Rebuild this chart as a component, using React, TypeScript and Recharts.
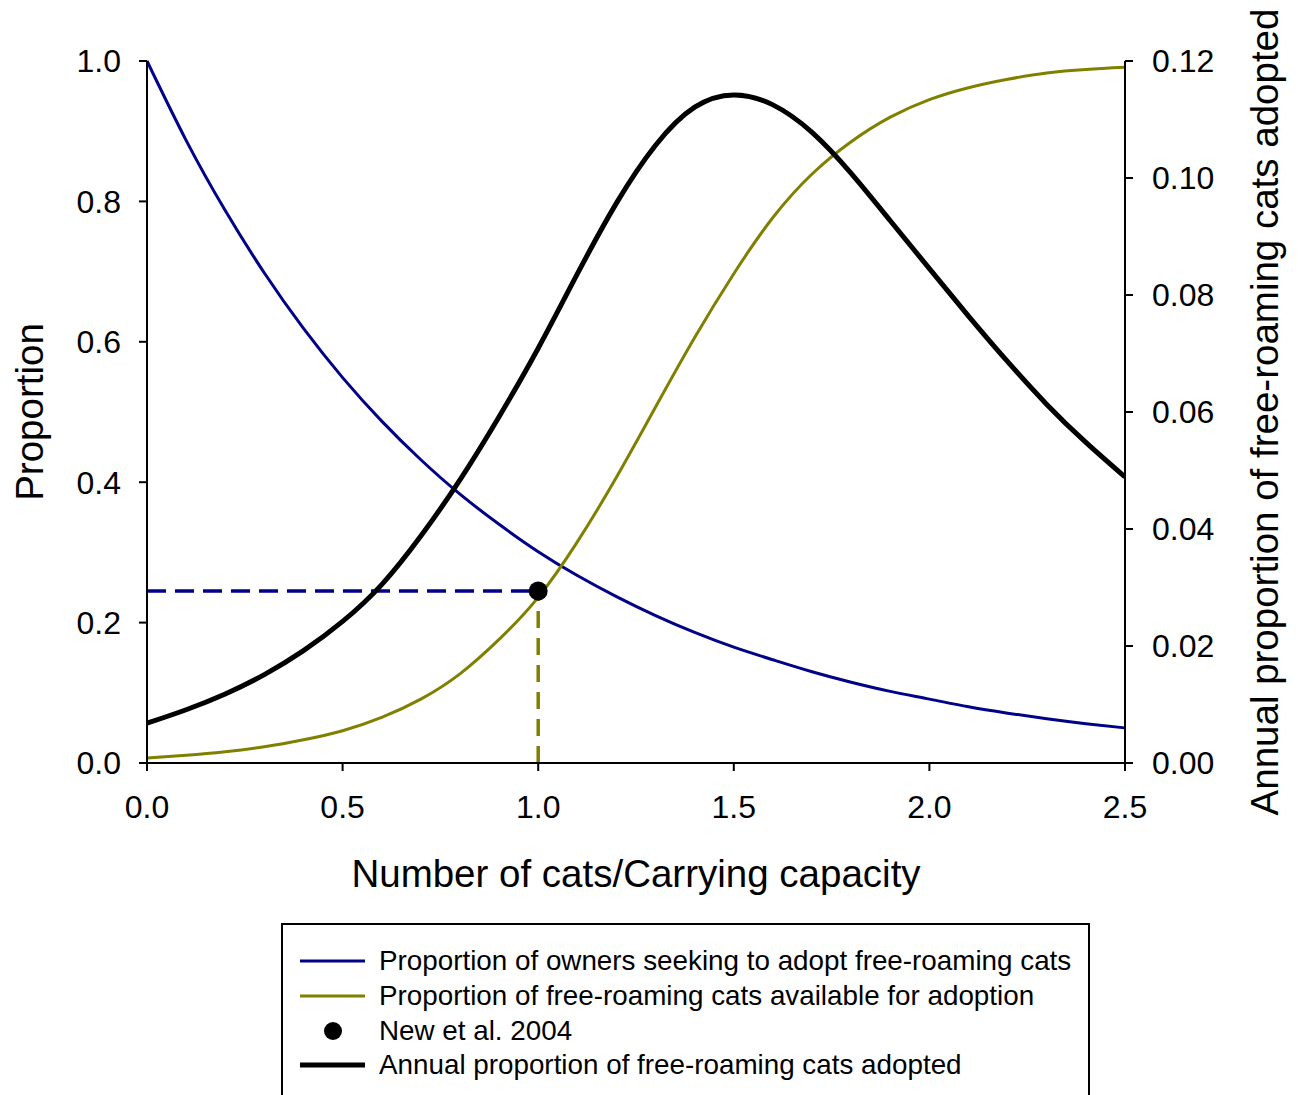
import React from "react";
import {
  ComposedChart,
  Line,
  Scatter,
  XAxis,
  YAxis,
} from "recharts";

const ratio = [
  0, 0.1, 0.2, 0.3, 0.4, 0.5, 0.6, 0.7, 0.8, 0.9, 1.0, 1.1, 1.2, 1.3, 1.4,
  1.5, 1.6, 1.7, 1.8, 1.9, 2.0, 2.1, 2.2, 2.3, 2.4, 2.5,
];
const ownersSeeking = [
  1.0, 0.887, 0.787, 0.698, 0.619, 0.549, 0.487, 0.432, 0.383, 0.34, 0.301,
  0.267, 0.237, 0.21, 0.186, 0.165, 0.147, 0.13, 0.115, 0.102, 0.091, 0.08,
  0.071, 0.063, 0.056, 0.05,
];
const catsAvailable = [
  0.007, 0.011, 0.016, 0.023, 0.033, 0.046, 0.065, 0.091, 0.127, 0.176, 0.236,
  0.315, 0.407, 0.507, 0.606, 0.697, 0.777, 0.839, 0.885, 0.92, 0.945, 0.962,
  0.974, 0.983, 0.988, 0.991,
];
const annualAdopted = [
  0.0068, 0.0091, 0.0118, 0.0151, 0.0192, 0.0242, 0.0305, 0.0388, 0.0484,
  0.0592, 0.0709, 0.0836, 0.0957, 0.1056, 0.1121, 0.1142, 0.1125, 0.1078,
  0.1008, 0.0927, 0.0845, 0.0764, 0.0686, 0.0613, 0.0548, 0.0489,
];

const newEtAl = [{ x: 1.0, y: 0.245 }];
const guideH = [
  { x: 0, y: 0.245 },
  { x: 1.0, y: 0.245 },
];
const guideV = [
  { x: 1.0, y: 0 },
  { x: 1.0, y: 0.245 },
];

const xTicks = [0, 0.5, 1.0, 1.5, 2.0, 2.5];
const leftTicks = [0, 0.2, 0.4, 0.6, 0.8, 1.0];
const rightTicks = [0, 0.02, 0.04, 0.06, 0.08, 0.1, 0.12];

const legendItems = [
  { label: "Proportion of owners seeking to adopt free-roaming cats", color: "#000088", kind: "line", w: 3 },
  { label: "Proportion of free-roaming cats available for adoption", color: "#808000", kind: "line", w: 3 },
  { label: "New et al. 2004", color: "#000", kind: "dot", w: 0 },
  { label: "Annual proportion of free-roaming cats adopted", color: "#000", kind: "line", w: 5 },
];

const FONT = "'Liberation Sans', Arial, sans-serif";
const BLUE = "#000088";
const OLIVE = "#808000";

const ownersData = ratio.map((x, i) => ({ x, y: ownersSeeking[i] }));
const availData = ratio.map((x, i) => ({ x, y: catsAvailable[i] }));
const adoptedData = ratio.map((x, i) => ({ x, y: annualAdopted[i] }));

const tickStyle = { fontSize: 32, fill: "#000", fontFamily: FONT };

export default function App() {
  return (
    <div
      style={{
        position: "absolute",
        left: 0,
        top: 0,
        width: 1298,
        height: 1095,
        overflow: "hidden",
        background: "#fff",
        fontFamily: FONT,
      }}
    >
      <ComposedChart
        width={1298}
        height={1095}
        margin={{ top: 61, right: 0, left: 0, bottom: 222 }}
      >
        <XAxis
          dataKey="x"
          type="number"
          domain={[0, 2.5]}
          ticks={xTicks}
          tickFormatter={(v: number) => v.toFixed(1)}
          height={110}
          stroke="#000"
          strokeWidth={2}
          tickSize={8}
          tickMargin={24}
          tick={tickStyle}
          allowDataOverflow
          label={(p: any) => (
            <text
              x={p.viewBox.x + p.viewBox.width / 2}
              y={887}
              textAnchor="middle"
              fontSize={38.5}
              fontFamily={FONT}
              fill="#000"
            >
              Number of cats/Carrying capacity
            </text>
          )}
        />
        <XAxis
          xAxisId="top"
          dataKey="x"
          type="number"
          orientation="top"
          domain={[0, 2.5]}
          height={0}
          tick={false}
          tickLine={false}
          stroke="#000"
          strokeWidth={2}
        />
        <YAxis
          yAxisId="left"
          domain={[0, 1]}
          ticks={leftTicks}
          tickFormatter={(v: number) => v.toFixed(1)}
          width={147}
          stroke="#000"
          strokeWidth={2}
          tickSize={8}
          tickMargin={18}
          tick={tickStyle}
          label={(p: any) => {
            const cx = 43;
            const cy = p.viewBox.y + p.viewBox.height / 2;
            return (
              <text
                x={cx}
                y={cy}
                transform={`rotate(-90 ${cx} ${cy})`}
                textAnchor="middle"
                fontSize={38.5}
                fontFamily={FONT}
                fill="#000"
              >
                Proportion
              </text>
            );
          }}
        />
        <YAxis
          yAxisId="right"
          orientation="right"
          domain={[0, 0.12]}
          ticks={rightTicks}
          tickFormatter={(v: number) => v.toFixed(2)}
          width={173}
          stroke="#000"
          strokeWidth={2}
          tickSize={8}
          tickMargin={19}
          tick={tickStyle}
          label={(p: any) => {
            const cx = 1278;
            const cy = p.viewBox.y + p.viewBox.height / 2;
            return (
              <text
                x={cx}
                y={cy}
                transform={`rotate(-90 ${cx} ${cy})`}
                textAnchor="middle"
                fontSize={38.5}
                fontFamily={FONT}
                fill="#000"
              >
                Annual proportion of free-roaming cats adopted
              </text>
            );
          }}
        />
        <Line
          yAxisId="left"
          data={guideH}
          dataKey="y"
          type="linear"
          stroke={BLUE}
          strokeWidth={3.5}
          strokeDasharray="19 9"
          dot={false}
          activeDot={false}
          isAnimationActive={false}
        />
        <Line
          yAxisId="left"
          data={guideV}
          dataKey="y"
          type="linear"
          stroke={OLIVE}
          strokeWidth={3.5}
          strokeDasharray="17 10"
          dot={false}
          activeDot={false}
          isAnimationActive={false}
        />
        <Line
          yAxisId="left"
          data={ownersData}
          dataKey="y"
          type="natural"
          stroke={BLUE}
          strokeWidth={3}
          dot={false}
          activeDot={false}
          isAnimationActive={false}
        />
        <Line
          yAxisId="left"
          data={availData}
          dataKey="y"
          type="natural"
          stroke={OLIVE}
          strokeWidth={3}
          dot={false}
          activeDot={false}
          isAnimationActive={false}
        />
        <Line
          yAxisId="right"
          data={adoptedData}
          dataKey="y"
          type="natural"
          stroke="#000"
          strokeWidth={5}
          dot={false}
          activeDot={false}
          isAnimationActive={false}
        />
        <Scatter
          yAxisId="left"
          data={newEtAl}
          dataKey="y"
          fill="#000"
          isAnimationActive={false}
          shape={(p: any) => <circle cx={p.cx} cy={p.cy} r={9.5} fill="#000" />}
        />
      </ComposedChart>

      <div
        style={{
          position: "absolute",
          left: 281,
          top: 923,
          width: 809,
          height: 200,
          border: "2px solid #000",
          boxSizing: "border-box",
          paddingTop: 19,
        }}
      >
        {legendItems.map((it) => (
          <div
            key={it.label}
            style={{
              display: "flex",
              alignItems: "center",
              height: 34.7,
              fontSize: 27.8,
              color: "#000",
              whiteSpace: "nowrap",
            }}
          >
            <svg width={96} height={34} style={{ flex: "none" }}>
              {it.kind === "line" ? (
                <line x1={17} x2={82} y1={17} y2={17} stroke={it.color} strokeWidth={it.w} />
              ) : (
                <circle cx={50} cy={17} r={9} fill={it.color} />
              )}
            </svg>
            <span>{it.label}</span>
          </div>
        ))}
      </div>
    </div>
  );
}
